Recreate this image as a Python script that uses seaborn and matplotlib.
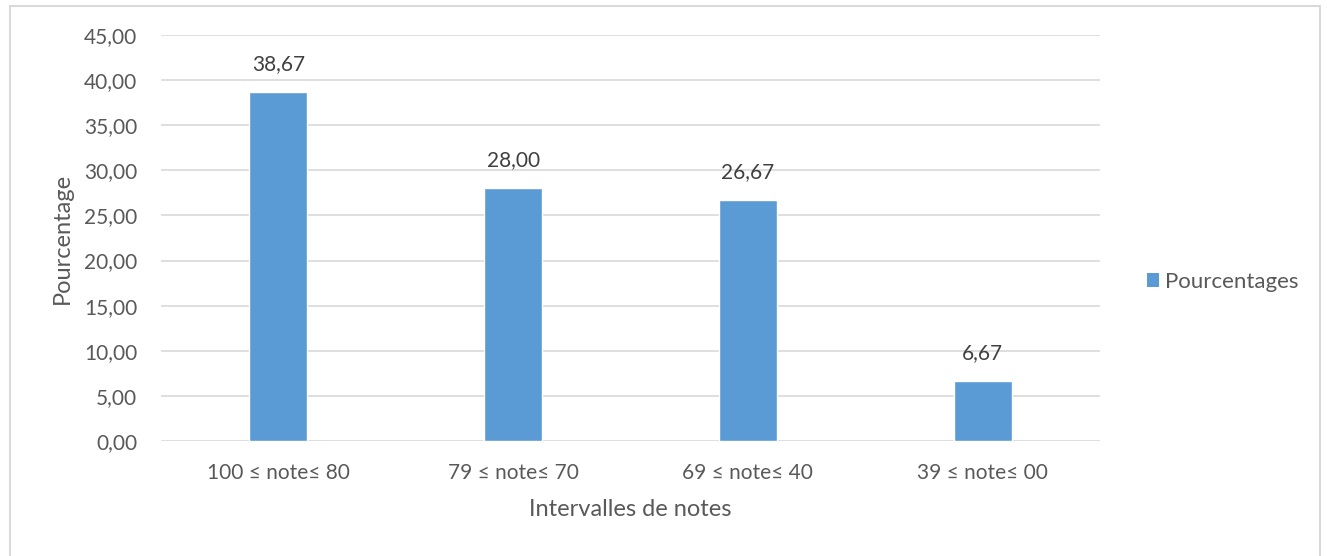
import matplotlib
matplotlib.use("Agg")
import matplotlib.pyplot as plt
import seaborn as sns
import pandas as pd
from matplotlib.patches import Rectangle, Patch

categories = ["100 ≤ note≤ 80", "79 ≤ note≤ 70", "69 ≤ note≤ 40", "39 ≤ note≤ 00"]
pourcentages = [38.67, 28.00, 26.67, 6.67]
y_ticks = [0, 5, 10, 15, 20, 25, 30, 35, 40, 45]

BAR = "#5B9BD5"
GRID = "#D9D9D9"
TEXT = "#595959"

sns.set_theme(style="white")
plt.rcParams["font.family"] = ["Lato", "DejaVu Sans"]

df = pd.DataFrame({"Intervalle": categories, "Pourcentage": pourcentages})

W, H = 1327, 556
fig = plt.figure(figsize=(W / 100, H / 100), dpi=100)
ax = fig.add_axes([161 / W, 1 - 441 / H, (1100 - 161) / W, (441 - 35) / H])

sns.barplot(data=df, x="Intervalle", y="Pourcentage", color=BAR, width=0.247,
            saturation=1, ax=ax, zorder=3)

ax.set_ylim(0, 45)
ax.set_xlim(-0.5, len(categories) - 0.5)
ax.set_yticks(y_ticks)
ax.set_yticklabels([f"{v:.2f}".replace(".", ",") for v in y_ticks])
for v in y_ticks:
    ax.axhline(v, color=GRID, lw=1.2, zorder=1)
for s in ax.spines.values():
    s.set_visible(False)
ax.tick_params(axis="both", length=0, labelsize=15, colors=TEXT)
ax.tick_params(axis="y", pad=17)
ax.tick_params(axis="x", pad=16)

for i, v in enumerate(pourcentages):
    ax.annotate(f"{v:.2f}".replace(".", ","), (i, v), xytext=(0, 13),
                textcoords="offset points", ha="center", va="bottom",
                fontsize=15, color="#404040")

ax.set_xlabel("Intervalles de notes", fontsize=17, color=TEXT, labelpad=14)
ax.set_ylabel("Pourcentage", fontsize=17, color=TEXT)
ax.yaxis.set_label_coords(-(161 - 62) / (1100 - 161), 0.5)
ax.yaxis.label.set_va("center")
ax.xaxis.set_label_coords(0.5, -(510 - 441) / (441 - 35))
ax.xaxis.label.set_va("center")

leg = fig.legend(handles=[Patch(facecolor=BAR, edgecolor="none", label="Pourcentages")],
                 loc="center left", bbox_to_anchor=(1138 / W, 1 - 282 / H),
                 frameon=False, fontsize=16, handlelength=0.55, handleheight=0.55,
                 handletextpad=0.25, borderaxespad=0)
for t in leg.get_texts():
    t.set_color(TEXT)

fig.patches.append(Rectangle((10 / W, -0.01), (1320 - 10) / W, 1 - 6 / H + 0.01,
                             transform=fig.transFigure, fill=False,
                             edgecolor=GRID, lw=1.5))

fig.savefig("out.png", dpi=100, facecolor="white")
